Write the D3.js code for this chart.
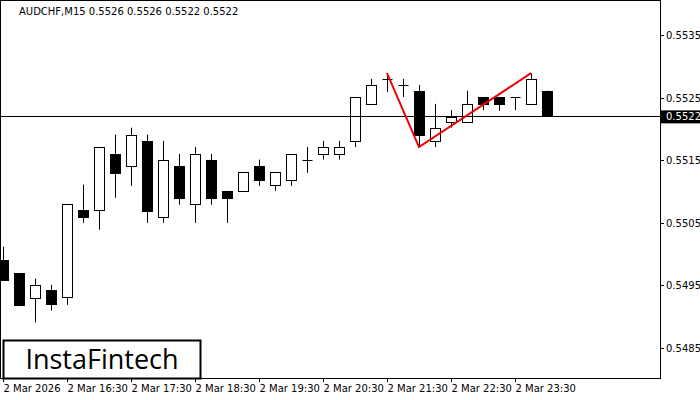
<!DOCTYPE html><html><head><script src="https://cdn.jsdelivr.net/npm/d3@7"></script>
<style>body{margin:0;background:#fff}</style></head><body><svg id="c" width="700" height="400"></svg>
<script>
const opens=[.54991,.5497,.54931,.54942,.54931,.55071,.55071,.5516,.55141,.55181,.5506,.55141,.5508,.55151,.55101,.55101,.55141,.55111,.55119,.55151,.5516,.5516,.55181,.5524,.5528,.5527,.55261,.55181,.55211,.55211,.55251,.55251,.55251,.5524,.55261];
const highs=[.55012,.5497,.54961,.54951,.5508,.55111,.55171,.55191,.55202,.55191,.55181,.5516,.55171,.5516,.55101,.55131,.55151,.55131,.5516,.55171,.55181,.55181,.55251,.5528,.55289,.5528,.5527,.5524,.5523,.55261,.55251,.55251,.55251,.55289,.55261];
const lows=[.54959,.54919,.54891,.5491,.54919,.5505,.55039,.5509,.55109,.5505,.5505,.55079,.5505,.55079,.5505,.55101,.55109,.55101,.55109,.5513,.55151,.55151,.55171,.5524,.55259,.55251,.55171,.55171,.55202,.55211,.5523,.55229,.5523,.5524,.55221];
const closes=[.54959,.54919,.54951,.54919,.5508,.5506,.55171,.5513,.55191,.55069,.55151,.5509,.5516,.5509,.5509,.55131,.55119,.55131,.5516,.55151,.55171,.55171,.55251,.5527,.5528,.5527,.55191,.55202,.55219,.5524,.5524,.5524,.55251,.5528,.55221];
const priceTicks=[0.5535,0.5525,0.5515,0.5505,0.5495,0.5485];
const timeLabels=["2 Mar 2026","2 Mar 16:30","2 Mar 17:30","2 Mar 18:30","2 Mar 19:30","2 Mar 20:30","2 Mar 21:30","2 Mar 22:30","2 Mar 23:30"];
const patternIdx=[24,26,33], patternPrices=[.55289,.55171,.55289];
const current=0.5522;
const svg=d3.select("#c");
const x=d3.scaleLinear().domain([0,1]).range([3,19]);
const y=d3.scaleLinear().domain([0.5535,0.5485]).range([35,348]);
const R=660,B=378;
svg.append("rect").attr("x",0.5).attr("y",0.5).attr("width",R).attr("height",B).attr("fill","none").attr("stroke","#000");
const g=svg.append("g");
opens.forEach((o,i)=>{
  const c=closes[i],cx=Math.round(x(i))+0.5;
  g.append("line").attr("x1",cx).attr("x2",cx).attr("y1",y(highs[i])).attr("y2",y(lows[i])).attr("stroke","#000");
  const t=Math.min(y(o),y(c)),h=Math.abs(y(o)-y(c));
  if(h<1) g.append("line").attr("x1",cx-5).attr("x2",cx+5).attr("y1",Math.round(y(o))+0.5).attr("y2",Math.round(y(o))+0.5).attr("stroke","#000");
  else g.append("rect").attr("x",cx-5).attr("y",Math.round(t)+0.5).attr("width",10).attr("height",Math.round(h)).attr("fill",c<o?"#000":"#fff").attr("stroke","#000");
});
svg.append("line").attr("x1",0).attr("x2",R).attr("y1",Math.round(y(current))+0.5).attr("y2",Math.round(y(current))+0.5).attr("stroke","#000");
svg.append("path").attr("d",d3.line().x(d=>x(d[0])).y(d=>y(d[1]))(patternIdx.map((v,i)=>[v,patternPrices[i]]))).attr("fill","none").attr("stroke","#e00").attr("stroke-width",2);
const f="'DejaVu Sans',sans-serif";
priceTicks.forEach(p=>{
  svg.append("line").attr("x1",R).attr("x2",R+4).attr("y1",Math.round(y(p))+0.5).attr("y2",Math.round(y(p))+0.5).attr("stroke","#000");
  svg.append("text").attr("x",666).attr("y",y(p)+4).attr("font-family",f).attr("font-size",10).text(p.toFixed(4));
});
svg.append("rect").attr("x",661).attr("y",y(current)-6).attr("width",39).attr("height",13).attr("fill","#000");
svg.append("text").attr("x",666).attr("y",y(current)+4).attr("font-family",f).attr("font-size",10).attr("fill","#fff").text(current.toFixed(4));
timeLabels.forEach((t,k)=>{
  const xx=Math.round(x(k*4))+0.5;
  svg.append("line").attr("x1",xx).attr("x2",xx).attr("y1",B).attr("y2",B+4).attr("stroke","#000");
  svg.append("text").attr("x",xx).attr("y",392).attr("font-family",f).attr("font-size",10).text(t);
});
svg.append("text").attr("x",19).attr("y",15).attr("font-family",f).attr("font-size",10).text("AUDCHF,M15  0.5526 0.5526 0.5522 0.5522");
svg.append("rect").attr("x",3.5).attr("y",340.5).attr("width",197).attr("height",38).attr("fill","#fff").attr("stroke","#000").attr("stroke-width",2);
svg.append("text").attr("x",102).attr("y",369).attr("text-anchor","middle").attr("font-family","'Open Sans',sans-serif").attr("font-size",27).text("InstaFintech");
</script></body></html>
